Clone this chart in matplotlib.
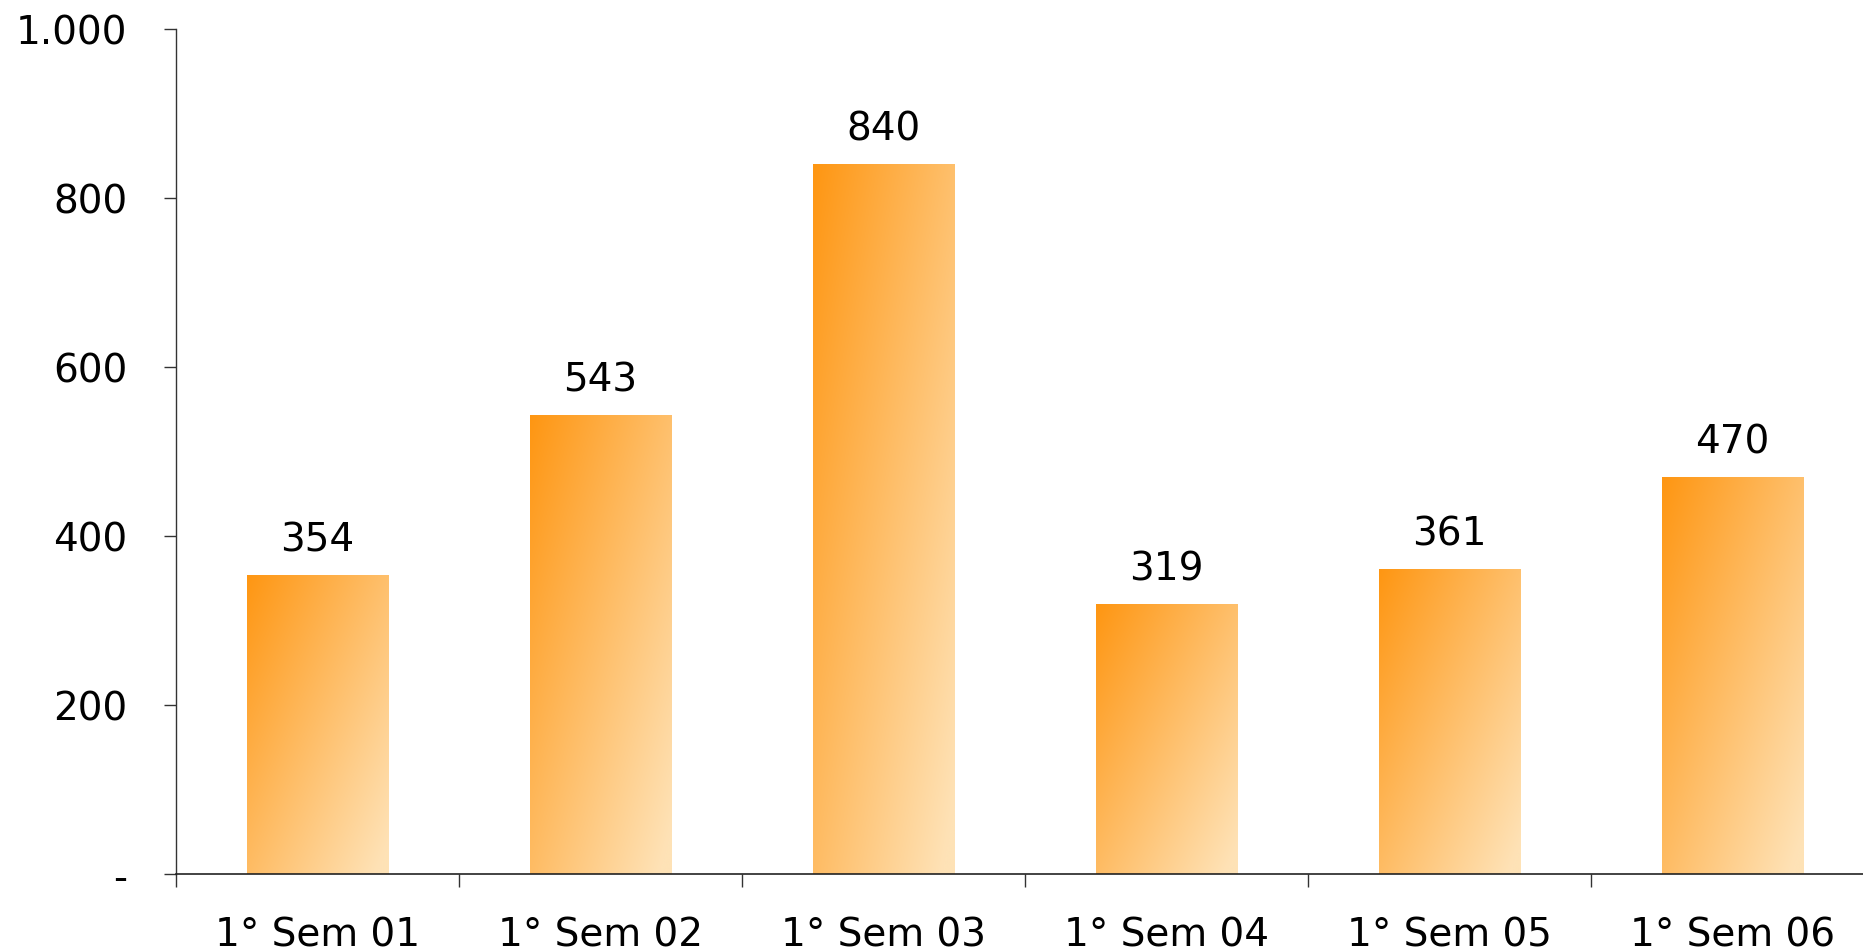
import numpy as np
import matplotlib
matplotlib.use('Agg')
import matplotlib.pyplot as plt
from matplotlib.ticker import FixedLocator, FuncFormatter

categories = ['1° Sem 01', '1° Sem 02', '1° Sem 03', '1° Sem 04', '1° Sem 05', '1° Sem 06']
values = [354, 543, 840, 319, 361, 470]
y_ticks = [0, 200, 400, 600, 800, 1000]

dark = np.array([255, 150, 18]) / 255.0
light = np.array([254, 226, 182]) / 255.0


def y_fmt(v, pos):
    if v == 0:
        return '-'
    return '{:,.0f}'.format(v).replace(',', '.')


def gradient_image(n=200):
    # diagonal gradient, dark at top-left, light at bottom-right
    u = np.linspace(0, 1, n)[None, :]
    v = np.linspace(0, 1, n)[:, None]
    t = np.clip(0.55 * u + 0.5 * v, 0, 1)[..., None]
    img = dark * (1 - t) + light * t
    return img


plt.rcParams['font.family'] = 'DejaVu Sans'
fig = plt.figure(figsize=(18.63, 9.53), dpi=100)
ax = fig.add_axes([176 / 1863, 78 / 953, 1 - 176 / 1863, (875 - 30) / 953])

x = np.arange(len(categories))
bars = ax.bar(x, values, width=0.5, color='none', edgecolor='none')
img = gradient_image()
for b in bars:
    im = ax.imshow(img, extent=[b.get_x(), b.get_x() + b.get_width(), 0, b.get_height()],
                   aspect='auto', origin='upper', zorder=2, interpolation='bilinear')
    im.set_clip_path(b)

ax.bar_label(bars, labels=[str(v) for v in values], padding=12, fontsize=28, color='black')

ax.set_xlim(-0.5, 5.461)
ax.set_ylim(0, 1000)

ax.spines['top'].set_visible(False)
ax.spines['right'].set_visible(False)
ax.spines['left'].set_color('#333333')
ax.spines['bottom'].set_color('#222222')
ax.spines['left'].set_linewidth(1.0)
ax.spines['bottom'].set_linewidth(1.2)

ax.yaxis.set_major_locator(FixedLocator(y_ticks))
ax.yaxis.set_major_formatter(FuncFormatter(y_fmt))
ax.tick_params(axis='y', length=9, width=1, color='#333333', labelsize=28, pad=26)

# category boundaries carry the ticks, labels sit at bar centres
ax.xaxis.set_major_locator(FixedLocator(np.arange(-0.5, 5.0, 1.0)))
ax.xaxis.set_major_formatter(FuncFormatter(lambda v, p: ''))
ax.xaxis.set_minor_locator(FixedLocator(x))
ax.set_xticklabels(categories, minor=True)
ax.tick_params(axis='x', which='major', length=9, width=1, color='#333333')
ax.tick_params(axis='x', which='minor', length=0, labelsize=28, pad=30)

fig.savefig('out.png', dpi=100)
